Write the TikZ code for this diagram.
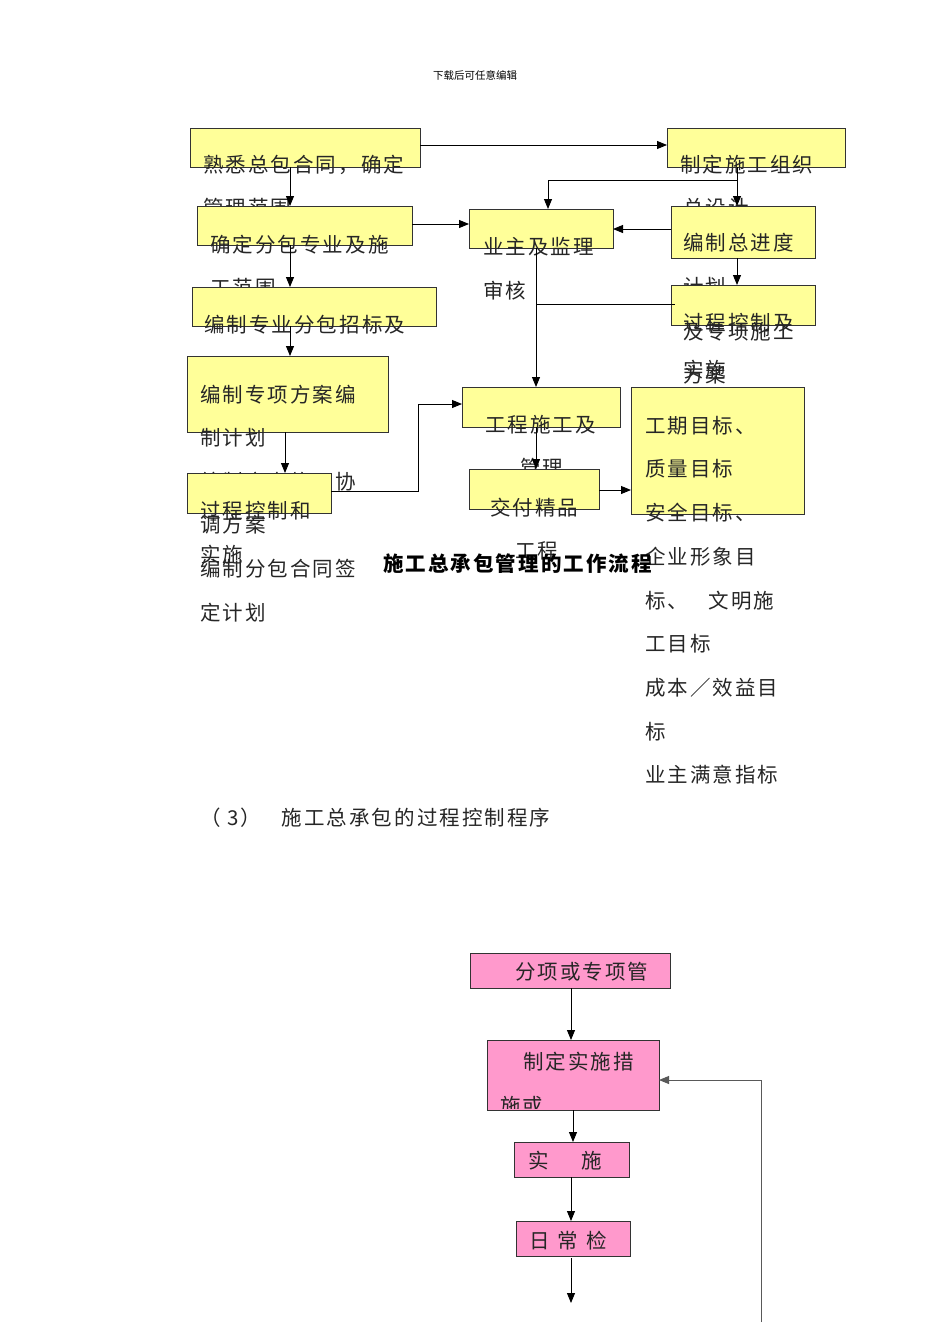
\documentclass[tikz,border=0pt]{standalone}
\usepackage{fontspec}
\newfontfamily\cjk[LetterSpace=10]{Noto Sans CJK SC}
\newfontfamily\cjkh{Noto Sans CJK SC}
\usetikzlibrary{arrows.meta}
\definecolor{ylw}{HTML}{FFFF99}
\definecolor{pnk}{HTML}{FF99CC}
\begin{document}
\begin{tikzpicture}[x=1pt,y=-1pt,
  ybox/.style={draw=black!80,fill=ylw,line width=1pt},
  pbox/.style={draw=black!80,fill=pnk,line width=1pt},
  t/.style={anchor=west,inner sep=0pt,font=\cjk\fontsize{20.5}{20.5}\selectfont,text=black!85},
  arr/.style={-{Triangle[length=10pt,width=8pt]},line width=0.9pt},
  ln/.style={line width=0.9pt}]
\useasboundingbox[fill=white] (0,0) rectangle (950,1344);
\node[inner sep=0pt,font=\cjkh\fontsize{10.5}{10.5}\selectfont] (hdr) at (475,75) {下载后可任意编辑};
% B1
\draw[ybox] (190,128) rectangle (420,167);
\node[t] (b1a) at (203,165) {熟悉总包合同，确定};
\node[t] (b1b) at (203,208) {管理范围};
% B7
\draw[ybox] (667,128) rectangle (845,167);
\node[t] (b7a) at (680,165) {制定施工组织};
\node[t] (b7b) at (683,208) {总设计};
% B2
\draw[ybox] (197,206) rectangle (412,245);
\node[t] (b2a) at (210,245) {确定分包专业及施};
\node[t] (b2b) at (210,288) {工范围};
% B6
\draw[ybox] (469,209) rectangle (613,248);
\node[t] (b6a) at (483,247) {业主及监理};
\node[t] (b6b) at (483,291) {审核};
% B8
\draw[ybox] (671,206) rectangle (815,258);
\node[t] (b8a) at (683,243) {编制总进度};
\node[t] (b8b) at (683,287) {计划};
% B3
\draw[ybox] (192,287) rectangle (436,326);
\node[t] (b3a) at (204,325) {编制专业分包招标及};
% B9
\draw[ybox] (671,285) rectangle (815,325);
\node[t] (b9c) at (683,332) {及专项施工};
\node[t] (b9d) at (683,375) {方案};
\node[t] (b9a) at (683,323) {过程控制及};
\node[t] (b9b) at (683,370) {实施};
% B4
\draw[ybox] (187,356) rectangle (388,432);
\node[t] (b4a) at (200,395) {编制专项方案编};
\node[t] (b4b) at (200,438) {制计划};
\node[t] (b4c) at (200,482) {编制方案施工协};
\node[t] (b4d) at (200,525) {调方案};
% B5
\draw[ybox] (187,473) rectangle (331,513);
\node[t] (b5a) at (200,511) {过程控制和};
\node[t] (b5b) at (200,555) {实施};
\node[t] (s1) at (200,569) {编制分包合同签};
\node[t] (s2) at (200,613) {定计划};
% B10
\draw[ybox] (462,387) rectangle (620,427);
\node[t] (b10a) at (485,425) {工程施工及};
\node[t] (b10b) at (520,468) {管理};
% B11
\draw[ybox] (469,469) rectangle (599,509);
\node[t] (b11a) at (490,508) {交付精品};
\node[t] (b11b) at (515,551) {工程};
% B12
\draw[ybox] (631,387) rectangle (804,514);
\foreach \s/\yy [count=\i] in {工期目标、/426,质量目标/469,安全目标、/513,企业形象目/557,标、\quad 文明施/601,工目标/644,成本／效益目/688,标/732,业主满意指标/775}
  \node[t] (g\i) at (645,\yy) {\s};
\node[anchor=west,inner sep=0pt,font=\cjk\bfseries\fontsize{20.5}{20.5}\selectfont] (cap) at (383,564) {施工总承包管理的工作流程};
\node[t] (sec) at (200,818) {（ 3）\quad 施工总承包的过程控制程序};
% connectors top
\coordinate (j1) at (737,180);
\draw[arr] (420,145) -- (667,145);
\draw[arr] (290,167) -- (290,206);
\draw[arr] (290,245) -- (290,287);
\draw[arr] (290,326) -- (290,356);
\draw[arr] (285,432) -- (285,473);
\draw[arr] (331,491) -- (418,491) |- (462,404);
\draw[arr] (412,224) -- (469,224);
\draw[arr] (737,167) -- (737,206);
\draw[arr] (j1) -- (548,180) -- (548,209);
\draw[arr] (671,229) -- (613,229);
\draw[arr] (737,258) -- (737,285);
\draw[arr] (536,248) -- (536,387);
\draw[ln] (536,304) -- (675,304);
\draw[arr] (536,427) -- (536,469);
\draw[arr] (599,490) -- (631,490);
% bottom
\draw[pbox] (470,953) rectangle (670,988);
\node[t] (p1) at (515,972) {分项或专项管};
\draw[pbox] (487,1040) rectangle (659,1110);
\node[t] (p2) at (523,1062) {制定实施措};
\begin{scope}
\clip (487,1040) rectangle (659,1108);
\node[t] (p2b) at (500,1106) {施或};
\end{scope}
\draw[pbox] (514,1142) rectangle (629,1177);
\node[t] (p3) at (528,1161) {实\hspace{1.6em}施};
\draw[pbox] (516,1221) rectangle (630,1256);
\node[t] (p4) at (529,1241) {日\hspace{0.4em}常\hspace{0.4em}检};
\coordinate (endp) at (571,1303);
\coordinate (fb) at (761,1322);
\draw[arr] (571,988) -- (571,1040);
\draw[arr] (573,1110) -- (573,1142);
\draw[arr] (571,1177) -- (571,1221);
\draw[arr] (571,1258) -- (endp);
\draw[arr,draw=black!65] (fb) |- (659,1080);
\end{tikzpicture}
\end{document}
